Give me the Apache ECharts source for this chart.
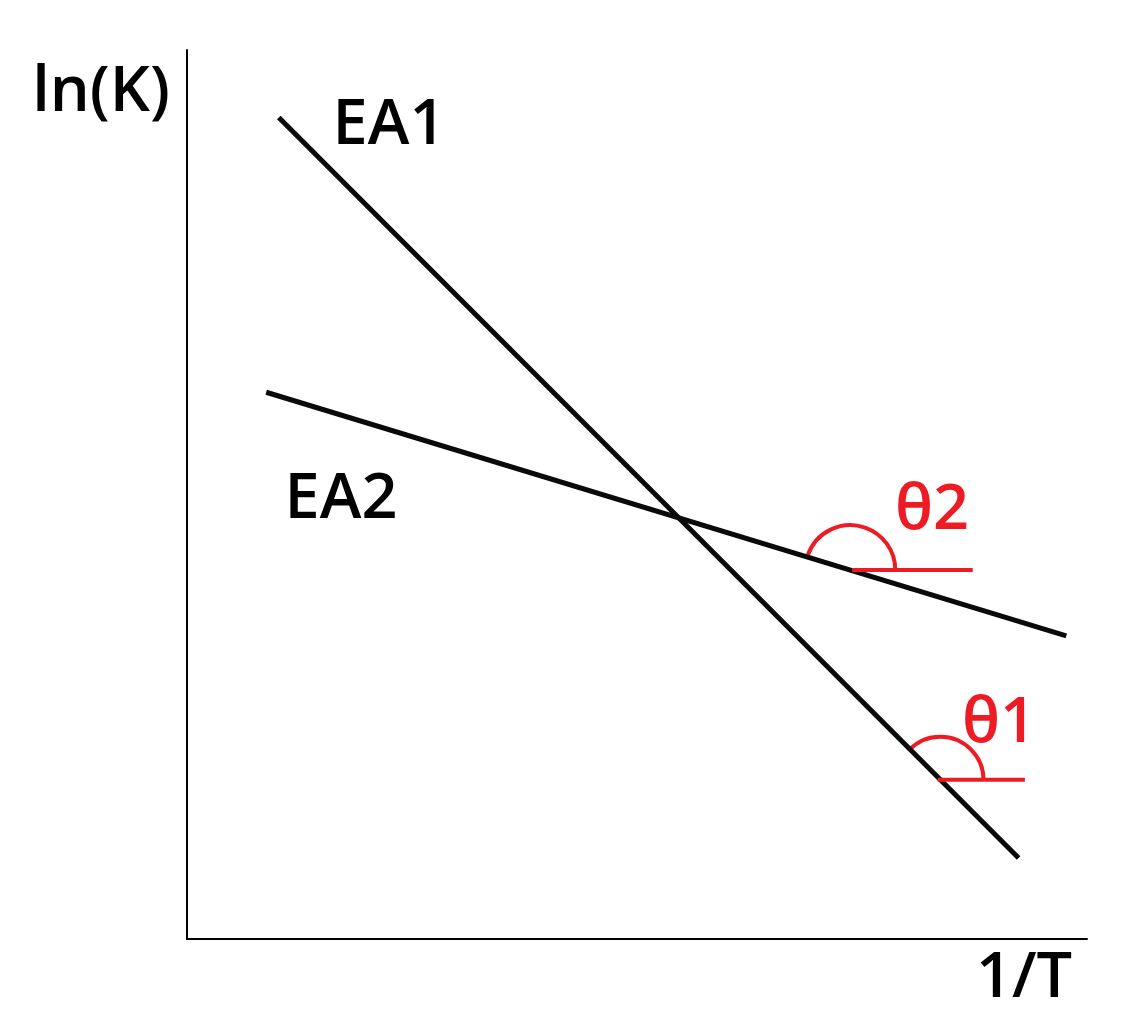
<!DOCTYPE html>
<html>
<head>
<meta charset="utf-8">
<title>ln(K) vs 1/T</title>
<script src="https://cdn.jsdelivr.net/npm/echarts@6/dist/echarts.min.js"></script>
<style>
  html, body { margin: 0; padding: 0; background: #fff; }
  #chart { width: 1122px; height: 1024px; }
</style>
</head>
<body>
<div id="chart"></div>
<script>
// end points of the two Arrhenius lines, in axis units (0..100)
const ea1Line = [[10.2, 92.4], [92.4, 9.1]];
const ea2Line = [[8.8, 61.5], [97.7, 34.1]];

// red horizontal reference lines for the angles
const theta1Base = [[83.4, 17.9], [93.1, 17.9]];
const theta2Base = [[73.9, 41.5], [87.3, 41.5]];

// angle arcs: centre x, centre y, radius (x units), sweep in degrees
const angleArcs = [
  [83.7, 17.9, 4.8, 135],
  [73.7, 41.5, 5.0, 161]
];

const red = "#ed1c24";
const font = "'Open Sans', 'Noto Sans', sans-serif";

const chart = echarts.init(document.getElementById("chart"));

function renderArc(params, api) {
  const c = api.coord([api.value(0), api.value(1)]);
  const r = api.size([api.value(2), 0])[0];
  const sweep = (api.value(3) * Math.PI) / 180;
  return {
    type: "arc",
    shape: { cx: c[0], cy: c[1], r: r, startAngle: -sweep, endAngle: 0, clockwise: true },
    style: { stroke: red, lineWidth: 4, fill: null }
  };
}

function label(text, x, y, color) {
  return {
    type: "text",
    x: x,
    y: y,
    style: {
      text: text,
      fill: color,
      font: "600 63px " + font,
      align: "center",
      verticalAlign: "middle"
    }
  };
}

const axisCommon = {
  type: "value",
  min: 0,
  max: 100,
  axisLine: { show: true, lineStyle: { color: "#000", width: 2 } },
  axisTick: { show: false },
  axisLabel: { show: false },
  splitLine: { show: false }
};

const options = {
  animation: false,
  grid: { left: 187, right: 35, top: 50, bottom: 85 },
  xAxis: axisCommon,
  yAxis: axisCommon,
  graphic: [
    label("ln(K)", 101, 93, "#000"),
    label("EA1", 389, 126, "#000"),
    label("EA2", 341, 500, "#000"),
    label("θ2", 932, 511, red),
    label("θ1", 999, 724, red),
    label("1/T", 1024, 979, "#000")
  ],
  series: [
    {
      type: "line",
      data: ea1Line,
      symbol: "none",
      lineStyle: { color: "#0a0a0a", width: 5 }
    },
    {
      type: "line",
      data: ea2Line,
      symbol: "none",
      lineStyle: { color: "#0a0a0a", width: 5 }
    },
    {
      type: "line",
      data: theta1Base,
      symbol: "none",
      lineStyle: { color: red, width: 4 }
    },
    {
      type: "line",
      data: theta2Base,
      symbol: "none",
      lineStyle: { color: red, width: 4 }
    },
    {
      type: "custom",
      renderItem: renderArc,
      data: angleArcs,
      encode: { x: 0, y: 1 }
    }
  ]
};

chart.setOption(options);
</script>
</body>
</html>
